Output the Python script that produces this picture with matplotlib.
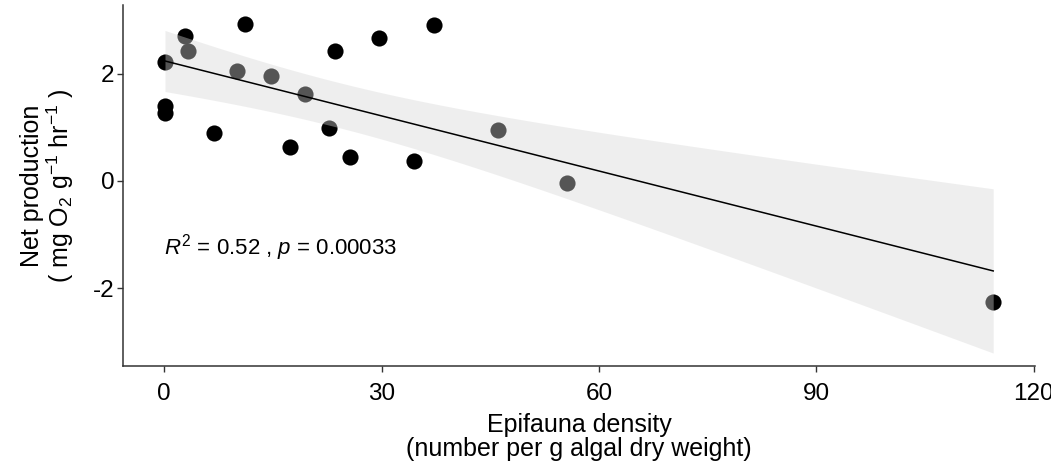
import matplotlib
matplotlib.use('Agg')
import matplotlib.pyplot as plt
import numpy as np

plt.rcParams['font.family'] = ['Liberation Sans', 'DejaVu Sans']
plt.rcParams['mathtext.fontset'] = 'custom'
plt.rcParams['mathtext.rm'] = 'Liberation Sans'
plt.rcParams['mathtext.it'] = 'Liberation Sans:italic'
plt.rcParams['axes.unicode_minus'] = False

# epifauna density vs net production
density = [0.1, 0.1, 0.1, 2.8, 3.3, 6.9, 10.0, 11.1, 14.7, 17.3,
           19.4, 22.8, 23.5, 25.7, 29.6, 34.5, 37.2, 46.0, 55.6, 114.4]
net_prod = [2.22, 1.40, 1.27, 2.70, 2.42, 0.89, 2.06, 2.92, 1.96, 0.64,
            1.62, 0.99, 2.43, 0.44, 2.67, 0.37, 2.90, 0.95, -0.04, -2.26]
xticks = [0, 30, 60, 90, 120]
yticks = [-2, 0, 2]

x = np.array(density)
y = np.array(net_prod)
n = len(x)
b, a = np.polyfit(x, y, 1)
xs = np.linspace(x.min(), x.max(), 100)
yfit = a + b * xs
resid = y - (a + b * x)
s = np.sqrt(np.sum(resid ** 2) / (n - 2))
tval = 2.101  # t(0.975, df=18)
se = s * np.sqrt(1 / n + (xs - x.mean()) ** 2 / np.sum((x - x.mean()) ** 2))

fig = plt.figure(figsize=(10.51, 4.65), dpi=100)
ax = fig.add_axes([0.117, 0.213, 0.868, 0.776])

ax.scatter(x, y, s=135, color='black', linewidths=0, zorder=2)
ax.fill_between(xs, yfit - tval * se, yfit + tval * se, color='#d6d6d6', alpha=0.4,
                linewidth=0, zorder=3)
ax.plot(xs, yfit, color='black', lw=1.1, zorder=4)

ax.text(0, -1.25, '$R^2$ = 0.52 , $p$ = 0.00033', fontsize=16, va='center', ha='left')

ax.set_xlim(-5.7, 120.2)
ax.set_ylim(-3.45, 3.28)
ax.set_xticks(xticks)
ax.set_yticks(yticks)
for sp in ['top', 'right']:
    ax.spines[sp].set_visible(False)
for sp in ['left', 'bottom']:
    ax.spines[sp].set_color('#333333')
    ax.spines[sp].set_linewidth(1.1)
ax.tick_params(length=4, width=1.0, color='#333333', labelsize=17.5, labelcolor='black', pad=2)
ax.tick_params(axis='x', pad=8)

ax.set_xlabel('Epifauna density\n(number per g algal dry weight)', fontsize=18, linespacing=1.0, labelpad=6)
ax.set_ylabel('Net production\n( mg O$_2$ g$^{-1}$ hr$^{-1}$ )', fontsize=18, linespacing=1.05, labelpad=12)

fig.savefig('out.png', dpi=100)
